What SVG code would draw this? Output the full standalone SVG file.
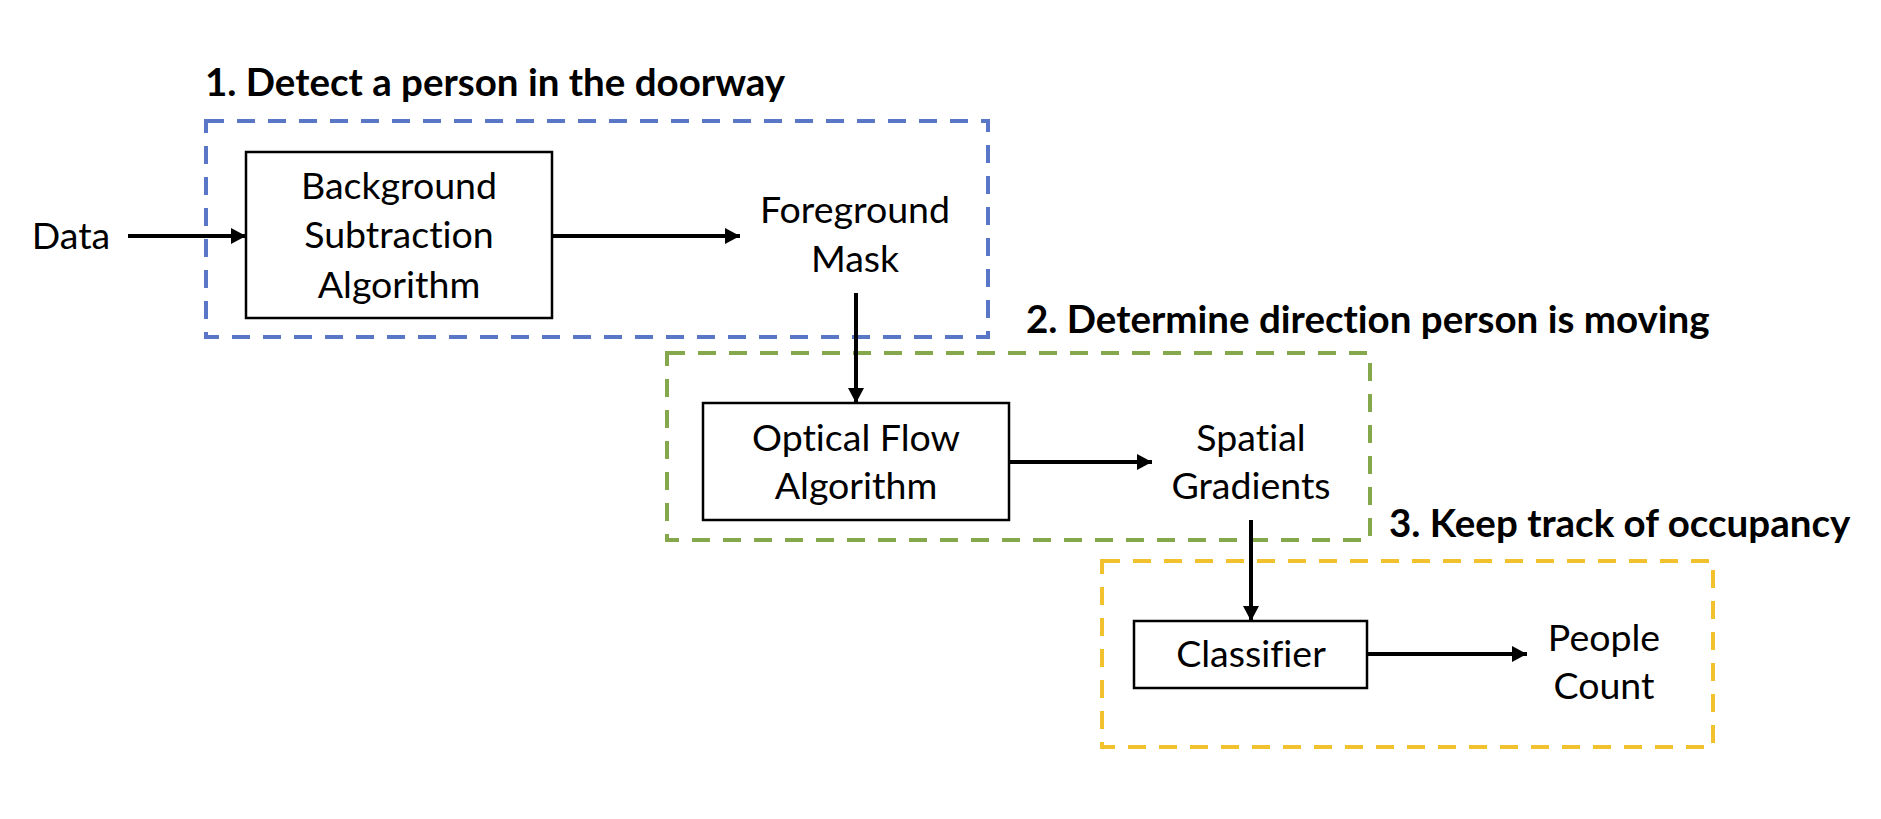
<svg xmlns="http://www.w3.org/2000/svg" width="1881" height="819" viewBox="0 0 1881 819">
<style>
.bg{fill:#ffffff}
.grp{fill:none;stroke-width:4;stroke-dasharray:18 13}
.blue{stroke:#5a76c6}
.green{stroke:#84a84b}
.yellow{stroke:#f2c12e}
.box{fill:#ffffff;stroke:#000;stroke-width:2.5}
.t{font-family:Lato,"Open Sans",sans-serif;font-size:37.5px;fill:#000;text-anchor:middle;font-variant-ligatures:none}
.h{font-family:Lato,"Open Sans",sans-serif;font-size:38.5px;font-weight:bold;fill:#000;font-variant-ligatures:none}
.conn line{stroke:#000;stroke-width:4;marker-end:url(#ah)}
</style>
<defs>
<marker id="ah" markerUnits="userSpaceOnUse" markerWidth="18" markerHeight="18" refX="15" refY="9" orient="auto">
<path d="M0,1 L15,9 L0,17 Z" fill="#000"/>
</marker>
</defs>
<rect class="bg" x="0" y="0" width="1881" height="819"/>

<g id="group1">
<rect class="grp blue" x="206" y="121" width="782" height="216"/>
<text class="h" x="205" y="96">1. Detect a person in the doorway</text>
</g>
<g id="group2">
<rect class="grp green" x="667" y="353" width="703" height="187"/>
<text class="h" x="1026" y="333">2. Determine direction person is moving</text>
</g>
<g id="group3">
<rect class="grp yellow" x="1102" y="561" width="611" height="186"/>
<text class="h" x="1389" y="537">3. Keep track of occupancy</text>
</g>

<g id="data">
<text class="t" x="71" y="249">Data</text>
</g>
<g id="bgsub">
<rect class="box" x="246" y="152" width="306" height="166"/>
<text class="t" x="399" y="199">Background</text>
<text class="t" x="399" y="248">Subtraction</text>
<text class="t" x="399" y="298">Algorithm</text>
</g>
<g id="fgmask">
<text class="t" x="855" y="223">Foreground</text>
<text class="t" x="855" y="272">Mask</text>
</g>
<g id="optflow">
<rect class="box" x="703" y="403" width="306" height="117"/>
<text class="t" x="856" y="451">Optical Flow</text>
<text class="t" x="856" y="499">Algorithm</text>
</g>
<g id="spatial">
<text class="t" x="1251" y="451">Spatial</text>
<text class="t" x="1251" y="499">Gradients</text>
</g>
<g id="classifier">
<rect class="box" x="1134" y="621" width="233" height="67"/>
<text class="t" x="1251" y="667">Classifier</text>
</g>
<g id="count">
<text class="t" x="1604" y="651">People</text>
<text class="t" x="1604" y="699">Count</text>
</g>

<g id="connectors" class="conn">
<line x1="128" y1="236" x2="246" y2="236"/>
<line x1="552" y1="236" x2="740" y2="236"/>
<line x1="856" y1="293" x2="856" y2="403"/>
<line x1="1009" y1="462" x2="1152" y2="462"/>
<line x1="1251" y1="520" x2="1251" y2="621"/>
<line x1="1367" y1="654" x2="1527" y2="654"/>
</g>
</svg>
